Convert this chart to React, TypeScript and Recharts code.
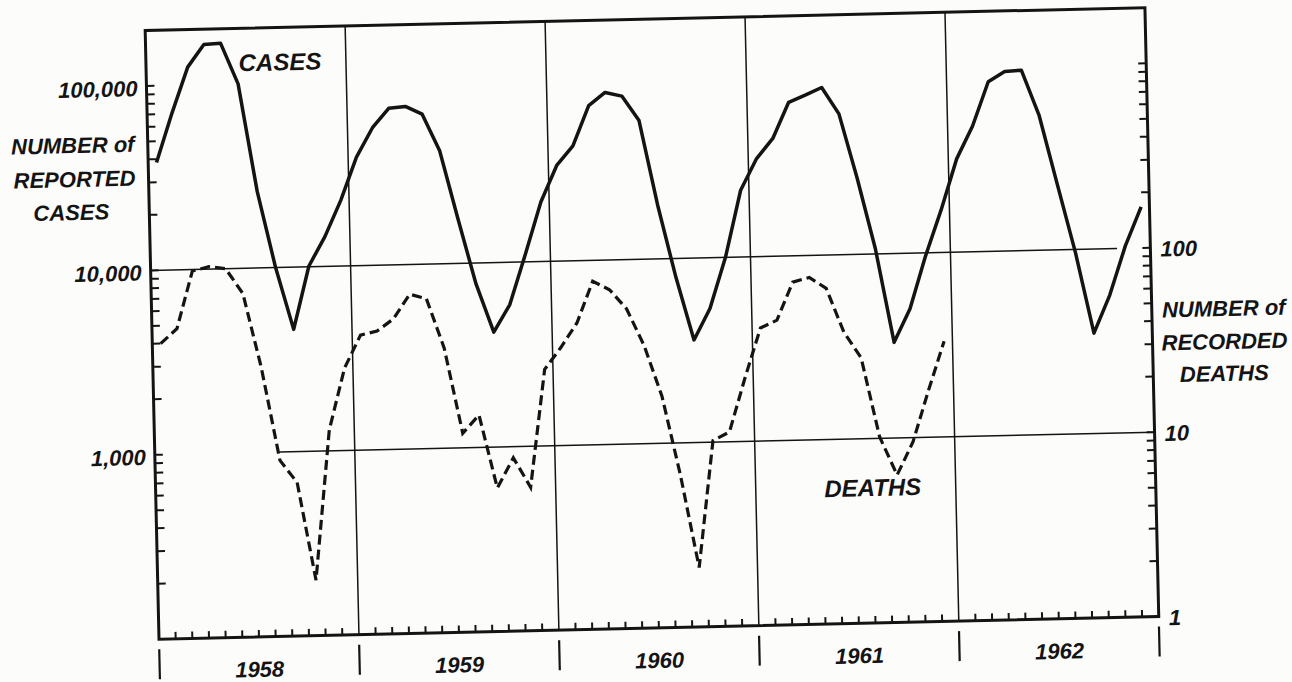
import React from "react";
import { ComposedChart, Line, XAxis, YAxis, ReferenceLine, ReferenceArea } from "recharts";

const YEARS = ["1958", "1959", "1960", "1961", "1962"];

// monthly reported cases, Jan 1958 - Dec 1962
const CASES = [
  38400, 71000, 125000, 165000, 167000, 100000, 26000, 10000, 4600, 10100, 14500, 22700,
  38800, 55700, 70600, 72000, 65000, 41000, 17500, 7700, 4200, 5900, 11000, 21000,
  33000, 42000, 69000, 81000, 77000, 56500, 19600, 7900, 3600, 5300, 10000, 23000,
  34000, 43500, 68000, 74000, 81000, 58000, 26000, 10700, 3300, 5000, 9600, 17000,
  32000, 48000, 83000, 94000, 95000, 54000, 22700, 9600, 3500, 5600, 10300, 16700,
];

// monthly recorded deaths, Jan 1958 - Dec 1961 (none plotted for 1962)
const DEATHS = [
  40, 48, 98, 103, 100, 73, 29, 9, 6.8, 2.0, 13, 28,
  42, 44, 51, 69, 65, 35, 12, 15, 6.0, 8.7, 6.0, 26,
  34, 46, 77, 69, 54, 34, 18, 6.7, 2.1, 10.2, 11.3, 22,
  41, 45, 72, 76, 66, 38, 27.5, 10.2, 6.3, 9.5, 18, 33,
];

const CASE_TICKS = [
  200, 300, 400, 500, 600, 700, 800, 900, 1000,
  2000, 3000, 4000, 5000, 6000, 7000, 8000, 9000, 10000,
  20000, 30000, 40000, 50000, 60000, 70000, 80000, 90000, 100000,
];
const CASE_LABELLED = [1000, 10000, 100000];

const DEATH_TICKS = [
  1, 2, 3, 4, 5, 6, 7, 8, 9, 10,
  20, 30, 40, 50, 60, 70, 80, 90, 100,
  200, 300, 400, 500, 600, 700, 800, 900, 1000,
];
const DEATH_LABELLED = [1, 10, 100];

const MONTH_TICKS = Array.from({ length: 61 }, (_, i) => i);

const data = CASES.map((c, i) => ({
  x: i + 0.5,
  cases: c,
  deaths: i < DEATHS.length ? DEATHS[i] : null,
}));

const W = 1292;
const H = 682;
const PLOT_L = 152;
const PLOT_R = 1152;
const PLOT_T = 19;
const PLOT_B = 628;
const INK = "#141414";
const FONT_FAMILY = "'Liberation Sans', Arial, sans-serif";

const textProps = {
  fontFamily: FONT_FAMILY,
  fontStyle: "italic",
  fontWeight: 700,
  fontSize: 22,
  fill: INK,
};

function CaseTick({ y, payload }: any) {
  const v = payload.value;
  return (
    <g>
      <line x1={PLOT_L} x2={PLOT_L + 8} y1={y} y2={y} stroke={INK} strokeWidth={2} />
      {CASE_LABELLED.includes(v) && (
        <text x={PLOT_L - 9} y={y + 10} textAnchor="end" {...textProps}>
          {v.toLocaleString("en-US")}
        </text>
      )}
    </g>
  );
}

function DeathTick({ y, payload }: any) {
  const v = payload.value;
  return (
    <g>
      {v !== 1 && <line x1={PLOT_R - 8} x2={PLOT_R} y1={y} y2={y} stroke={INK} strokeWidth={2} />}
      {DEATH_LABELLED.includes(v) && (
        <text x={PLOT_R + 10} y={y + 9} textAnchor="start" {...textProps}>
          {String(v)}
        </text>
      )}
    </g>
  );
}

function MonthTick({ x, payload }: any) {
  const m = payload.value;
  if (m % 12 === 0) {
    return <line x1={x} x2={x} y1={PLOT_B + 10} y2={PLOT_B + 40} stroke={INK} strokeWidth={2.2} />;
  }
  return (
    <g>
      <line x1={x} x2={x} y1={PLOT_B} y2={PLOT_B - 7} stroke={INK} strokeWidth={2} />
      {m % 12 === 6 && (
        <text x={x} y={PLOT_B + 40} textAnchor="middle" {...textProps}>
          {YEARS[(m - 6) / 12]}
        </text>
      )}
    </g>
  );
}

const labelStyle: React.CSSProperties = {
  position: "absolute",
  transform: "translate(-50%, -50%)",
  fontFamily: FONT_FAMILY,
  fontStyle: "italic",
  fontWeight: 700,
  lineHeight: 1,
  color: INK,
  whiteSpace: "nowrap",
};

function Label({ x, y, text, size = 22 }: { x: number; y: number; text: string; size?: number }) {
  return <div style={{ ...labelStyle, left: x, top: y, fontSize: size }}>{text}</div>;
}

export default function App() {
  return (
    <div style={{ position: "absolute", left: 0, top: 0, width: W, height: H, background: "#fcfcfb", overflow: "hidden" }}>
      <div style={{ position: "relative", width: W, height: H, transform: "rotate(-1.3deg)", transformOrigin: "652px 325px" }}>
        <ComposedChart width={W} height={H} data={data} margin={{ top: PLOT_T, right: 0, bottom: 0, left: 0 }}>
          <XAxis
            dataKey="x"
            type="number"
            domain={[0, 60]}
            ticks={MONTH_TICKS}
            interval={0}
            height={H - PLOT_B}
            allowDataOverflow
            axisLine={false}
            tickLine={false}
            tick={<MonthTick />}
          />
          <YAxis
            yAxisId="cases"
            orientation="left"
            scale="log"
            domain={[100, 200000]}
            ticks={CASE_TICKS}
            interval={0}
            width={PLOT_L}
            allowDataOverflow
            axisLine={false}
            tickLine={false}
            tick={<CaseTick />}
          />
          <YAxis
            yAxisId="deaths"
            orientation="right"
            scale="log"
            domain={[1, 2000]}
            ticks={DEATH_TICKS}
            interval={0}
            width={W - PLOT_R}
            allowDataOverflow
            axisLine={false}
            tickLine={false}
            tick={<DeathTick />}
          />
          {[12, 24, 36, 48].map((m) => (
            <ReferenceLine key={m} x={m} yAxisId="cases" stroke={INK} strokeWidth={1.5} />
          ))}
          <ReferenceLine
            yAxisId="cases"
            segment={[{ x: 0, y: 10000 }, { x: 58, y: 10000 }]}
            stroke={INK}
            strokeWidth={1.5}
          />
          <ReferenceLine
            yAxisId="cases"
            segment={[{ x: 7.5, y: 1000 }, { x: 60, y: 1000 }]}
            stroke={INK}
            strokeWidth={1.5}
          />
          <ReferenceArea
            yAxisId="cases"
            x1={0}
            x2={60}
            y1={100}
            y2={200000}
            fill="none"
            fillOpacity={0}
            stroke={INK}
            strokeWidth={3}
          />
          <Line
            yAxisId="cases"
            dataKey="cases"
            type="linear"
            stroke={INK}
            strokeWidth={3.5}
            strokeLinejoin="round"
            dot={false}
            isAnimationActive={false}
          />
          <Line
            yAxisId="deaths"
            dataKey="deaths"
            type="linear"
            stroke={INK}
            strokeWidth={3.2}
            strokeDasharray="10 5"
            dot={false}
            connectNulls={false}
            isAnimationActive={false}
          />
        </ComposedChart>
        <Label x={77} y={133} text="NUMBER of" />
        <Label x={78} y={167} text="REPORTED" />
        <Label x={74} y={200} text="CASES" />
        <Label x={1224} y={322} text="NUMBER of" />
        <Label x={1224} y={355} text="RECORDED" />
        <Label x={1223} y={387} text="DEATHS" />
        <Label x={286} y={54} text="CASES" size={24} />
        <Label x={869} y={493} text="DEATHS" size={24} />
      </div>
    </div>
  );
}
